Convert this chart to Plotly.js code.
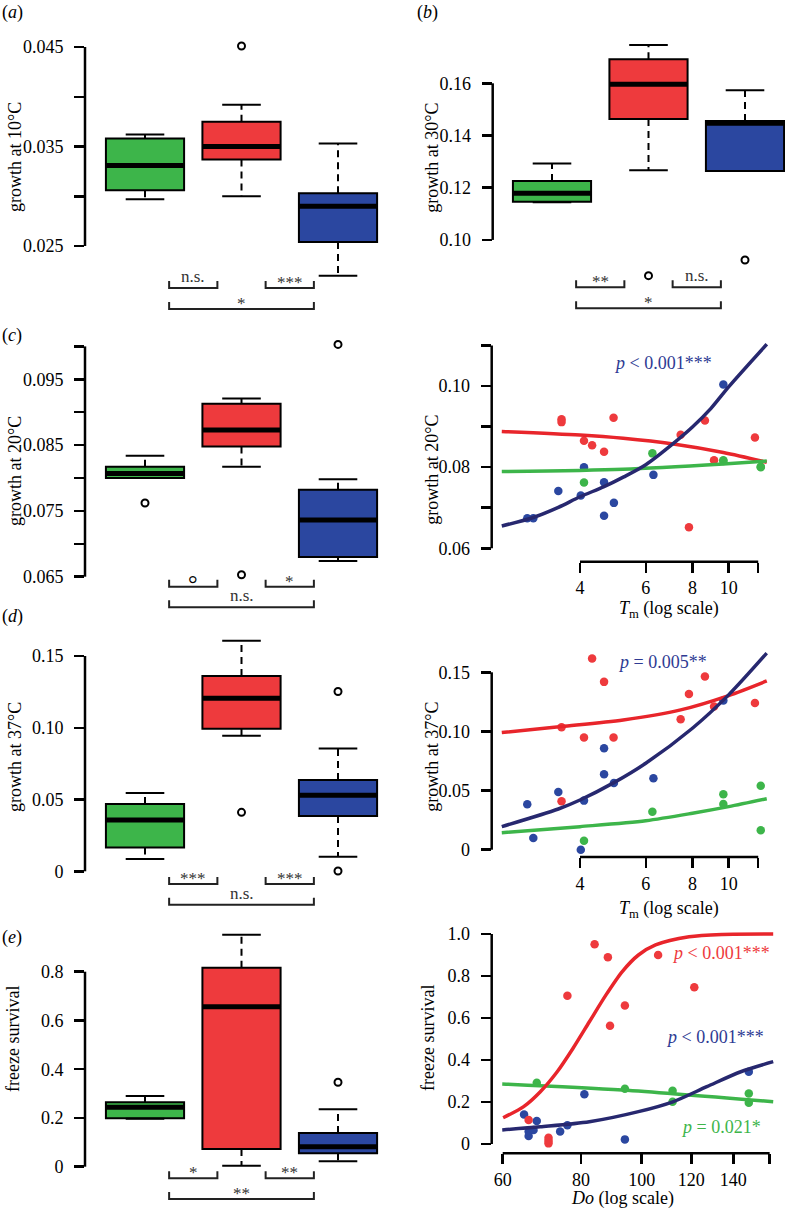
<!DOCTYPE html>
<html><head><meta charset="utf-8">
<script src="https://cdn.plot.ly/plotly-3.0.1.min.js"></script>
<style>html,body{margin:0;padding:0;background:#fff}#chart{width:785px;height:1209px}</style>
</head><body><div id="chart"></div>
<script>
// ================= DATA =================
// group order in every box panel: green, red, blue (positions 1, 2, 3)
const groups = ['green', 'red', 'blue'];

// (a) growth at 10°C
const a_lower = [0.0297, 0.0300, 0.0220];
const a_q1    = [0.0306, 0.0337, 0.0254];
const a_med   = [0.0331, 0.0350, 0.0290];
const a_q3    = [0.0358, 0.0375, 0.0303];
const a_upper = [0.0362, 0.0392, 0.0353];
const a_outGroup = [2];
const a_outVal   = [0.0451];
const a_sig = ['n.s.', '***', '*'];

// (b) growth at 30°C
const b_lower = [0.1144, 0.1267, 0.1264];
const b_q1    = [0.1146, 0.1463, 0.1264];
const b_med   = [0.1179, 0.1596, 0.1447];
const b_q3    = [0.1226, 0.1692, 0.1456];
const b_upper = [0.1293, 0.1747, 0.1573];
const b_outGroup = [2, 3];
const b_outVal   = [0.0863, 0.0923];
const b_sig = ['**', 'n.s.', '*'];

// (c) growth at 20°C
const c_lower = [0.0800, 0.0817, 0.0674];
const c_q1    = [0.0800, 0.0848, 0.0680];
const c_med   = [0.0807, 0.0873, 0.0736];
const c_q3    = [0.0817, 0.0913, 0.0782];
const c_upper = [0.0834, 0.0921, 0.0798];
const c_outGroup = [1, 2, 3];
const c_outVal   = [0.0762, 0.0653, 0.1003];
const c_sig = ['°', '*', 'n.s.'];

// (d) growth at 37°C
const d_lower = [0.0086, 0.0944, 0.0102];
const d_q1    = [0.0165, 0.0993, 0.0385];
const d_med   = [0.0357, 0.1205, 0.0529];
const d_q3    = [0.0469, 0.1360, 0.0636];
const d_upper = [0.0545, 0.1606, 0.0856];
const d_outGroup = [2, 3, 3];
const d_outVal   = [0.0411, 0.1253, 0.0002];
const d_sig = ['***', '***', 'n.s.'];

// (e) freeze survival
const e_lower = [0.197, 0.004, 0.022];
const e_q1    = [0.1985, 0.0726, 0.055];
const e_med   = [0.2437, 0.6564, 0.082];
const e_q3    = [0.264, 0.8165, 0.1383];
const e_upper = [0.290, 0.952, 0.2355];
const e_outGroup = [3];
const e_outVal   = [0.3463];
const e_sig = ['*', '**', '**'];

// strains: Tm and growth
const tmRed   = [3.57, 3.57, 4.10, 4.31, 4.64, 4.92, 7.44, 7.83, 8.64, 9.14, 11.76];
const g20Red  = [0.0918, 0.0911, 0.0865, 0.0854, 0.0838, 0.0922, 0.0880, 0.0652, 0.0915, 0.0817, 0.0873];
const g37Red  = [0.1035, 0.0409, 0.0948, 0.1616, 0.1419, 0.0948, 0.1103, 0.1317, 0.1464, 0.1210, 0.1241];
const tmBlue  = [2.89, 3.00, 3.50, 4.02, 4.10, 4.64, 4.64, 4.93, 6.29, 9.68];
const g20Blue = [0.0674, 0.0674, 0.0741, 0.0730, 0.0800, 0.0763, 0.0680, 0.0712, 0.0781, 0.1004];
const g37Blue = [0.0384, 0.0099, 0.0488, 0.0000, 0.0415, 0.0858, 0.0638, 0.0564, 0.0604, 0.1261];
const tmGreen  = [4.10, 6.25, 9.68, 9.68, 12.19, 12.19];
const g20Green = [0.0762, 0.0834, 0.0817, 0.0815, 0.0801, 0.0800];
const g37Green = [0.0076, 0.0321, 0.0469, 0.0387, 0.0541, 0.0164];

// strains: Do and freeze survival
const doRed    = [84.1, 88.3, 106.2, 76.1, 94.0, 89.0, 121.3, 66.0, 71.0, 71.0, 71.0];
const fzRed    = [0.951, 0.889, 0.900, 0.706, 0.659, 0.563, 0.746, 0.114, 0.030, 0.003, 0.015];
const doBlue   = [64.9, 68.0, 66.0, 66.0, 67.2, 74.1, 76.1, 81.0, 94.0, 148.2];
const fzBlue   = [0.141, 0.110, 0.059, 0.038, 0.067, 0.060, 0.089, 0.237, 0.022, 0.344];
const doGreen  = [68.0, 94.0, 112.0, 112.0, 148.2, 148.2];
const fzGreen  = [0.292, 0.263, 0.254, 0.201, 0.241, 0.197];

// fitted curves
const fit20Blue_x  = [2.47, 3.0, 3.5, 4.0, 4.64, 5.24, 6.0, 7.1, 8.0, 8.97, 10.0, 12.65];
const fit20Blue_y  = [0.0655, 0.0676, 0.0701, 0.0727, 0.0752, 0.0776, 0.0806, 0.0858, 0.0899, 0.0945, 0.0998, 0.1103];
const fit20Red_x   = [2.47, 4.0, 5.22, 7.11, 9.68, 12.65];
const fit20Red_y   = [0.0888, 0.0879, 0.0871, 0.0857, 0.0836, 0.0812];
const fit20Green_x = [2.47, 5.22, 9.68, 12.65];
const fit20Green_y = [0.0789, 0.0795, 0.0808, 0.0815];

const fit37Red_x   = [2.47, 3.57, 5.22, 7.44, 10.0, 12.65];
const fit37Red_y   = [0.0990, 0.1041, 0.1097, 0.1182, 0.1303, 0.1427];
const fit37Blue_x  = [2.47, 3.5, 4.0, 4.93, 6.0, 8.0, 10.0, 12.65];
const fit37Blue_y  = [0.0195, 0.0344, 0.0420, 0.0567, 0.0731, 0.1027, 0.1309, 0.1662];
const fit37Green_x = [2.47, 4.0, 6.0, 8.0, 10.0, 12.65];
const fit37Green_y = [0.0144, 0.0195, 0.0245, 0.0308, 0.0364, 0.0431];

const fitFzRed_x   = [60.1, 64.8, 68.9, 73.3, 77.7, 82.5, 87.7, 93.1, 98.8, 105.2, 119.0, 134.5, 162.1];
const fitFzRed_y   = [0.125, 0.178, 0.249, 0.344, 0.456, 0.582, 0.710, 0.821, 0.900, 0.948, 0.987, 0.998, 1.0];
const fitFzBlue_x  = [59.9, 68.9, 82.5, 98.8, 112.1, 127.0, 143.9, 162.1];
const fitFzBlue_y  = [0.067, 0.082, 0.106, 0.154, 0.201, 0.273, 0.344, 0.392];
const fitFzGreen_x = [59.9, 93.1, 162.1];
const fitFzGreen_y = [0.286, 0.257, 0.201];

// ================= STYLE / LAYOUT HELPERS =================
const W = 785, H = 1209;
const SERIF = 'Liberation Serif, Times New Roman, serif';
const FILL = {green: '#3DB54A', red: '#EE3A3D', blue: '#2B47A0'};
const LINE = {green: '#3DB54A', red: '#E8252B', blue: '#27286F'};
const PTEXT = {green: '#3DB54A', red: '#EE3A3D', blue: '#2E3A93'};
const dx = (a, b) => [a / W, b / W];
const dy = (top, bottom) => [1 - bottom / H, 1 - top / H];
const axName = i => i === 1 ? ['x', 'y'] : ['x' + i, 'y' + i];
const axKey = (c, i) => c + 'axis' + (i === 1 ? '' : i);

const traces = [], shapes = [], annotations = [];
const layout = {
  width: W, height: H, margin: {l: 0, r: 0, t: 0, b: 0},
  paper_bgcolor: '#fff', plot_bgcolor: 'rgba(0,0,0,0)',
  showlegend: false, hovermode: false, boxmode: 'overlay',
  font: {family: SERIF, size: 18, color: '#000'}
};
const tickFont = {family: SERIF, size: 18, color: '#000'};

function yAxis(i, domPx, range, vals, text, lineFrom, lineTo) {
  const [xa, ya] = axName(i);
  layout[axKey('y', i)] = {
    domain: dy(domPx[0], domPx[1]), range, anchor: xa,
    tickmode: 'array', tickvals: vals, ticktext: text,
    ticks: 'outside', ticklen: 10, tickwidth: 2.5, tickcolor: '#000',
    showline: false, showgrid: false, zeroline: false,
    tickfont: tickFont, ticklabelstandoff: 7, fixedrange: true
  };
  shapes.push({type: 'line', xref: xa + ' domain', yref: ya, x0: 0, x1: 0,
    y0: lineFrom, y1: lineTo, line: {color: '#000', width: 2.5}});
}
function xBoxAxis(i, domPx, range) {
  const [xa, ya] = axName(i);
  layout[axKey('x', i)] = {domain: dx(domPx[0], domPx[1]), range, anchor: ya,
    visible: false, fixedrange: true};
}
function xLogAxis(i, domPx, range, vals, text) {
  const [xa, ya] = axName(i);
  layout[axKey('x', i)] = {
    domain: dx(domPx[0], domPx[1]), type: 'log', range, anchor: ya,
    tickmode: 'array', tickvals: vals, ticktext: text,
    ticks: 'outside', ticklen: 10, tickwidth: 2.5, tickcolor: '#000',
    showline: false, showgrid: false, zeroline: false,
    tickfont: tickFont, ticklabelstandoff: 0, fixedrange: true
  };
  shapes.push({type: 'line', xref: xa, yref: ya + ' domain', x0: vals[0], x1: vals[vals.length - 1],
    y0: 0, y1: 0, line: {color: '#000', width: 2.5}});
}

function boxPanel(i, st, outGroup, outVal, sig, bracketPy) {
  const [xa, ya] = axName(i);
  const halfBox = 0.405, halfCap = 0.2;
  const capX = [], capY = [], medX = [], medY = [];
  groups.forEach((g, k) => {
    const c = k + 1;
    traces.push({type: 'box', xaxis: xa, yaxis: ya, x: [c],
      q1: [st.q1[k]], median: [st.med[k]], q3: [st.q3[k]],
      lowerfence: [st.q1[k]], upperfence: [st.q3[k]],
      width: 2 * halfBox, whiskerwidth: 0, boxpoints: false,
      fillcolor: FILL[g], line: {color: '#000', width: 2}, hoverinfo: 'skip'});
    traces.push({type: 'scatter', mode: 'lines', xaxis: xa, yaxis: ya, x: [c, c], y: [st.q3[k], st.upper[k]],
      line: {color: '#000', width: 2, dash: '7px,5px'}, hoverinfo: 'skip'});
    traces.push({type: 'scatter', mode: 'lines', xaxis: xa, yaxis: ya, x: [c, c], y: [st.q1[k], st.lower[k]],
      line: {color: '#000', width: 2, dash: '7px,5px'}, hoverinfo: 'skip'});
    capX.push(c - halfCap, c + halfCap, null, c - halfCap, c + halfCap, null);
    capY.push(st.upper[k], st.upper[k], null, st.lower[k], st.lower[k], null);
    medX.push(c - halfBox, c + halfBox, null);
    medY.push(st.med[k], st.med[k], null);
  });
  traces.push({type: 'scatter', mode: 'lines', xaxis: xa, yaxis: ya, x: capX, y: capY,
    line: {color: '#000', width: 2}, hoverinfo: 'skip'});
  traces.push({type: 'scatter', mode: 'lines', xaxis: xa, yaxis: ya, x: medX, y: medY,
    line: {color: '#000', width: 5}, hoverinfo: 'skip'});
  traces.push({type: 'scatter', mode: 'markers', xaxis: xa, yaxis: ya, x: outGroup, y: outVal,
    cliponaxis: false,
    marker: {symbol: 'circle-open', size: 7, color: '#000', line: {width: 2, color: '#000'}}, hoverinfo: 'skip'});
  // significance brackets
  const spans = [[1.25, 1.75, bracketPy[0]], [2.25, 2.75, bracketPy[0]], [1.25, 2.75, bracketPy[1]]];
  spans.forEach(([x0, x1, py], k) => {
    const yl = 1 - py / H, yt = 1 - (py - 7) / H;
    shapes.push({type: 'path', xref: xa, yref: 'paper',
      path: `M ${x0},${yt} L ${x0},${yl} L ${x1},${yl} L ${x1},${yt}`,
      line: {color: '#222', width: 2}});
    const isDeg = sig[k] === '°';
    const isStar = /^\*+$/.test(sig[k]);
    annotations.push({xref: xa, yref: 'paper', x: (x0 + x1) / 2, y: yl, yanchor: 'bottom',
      xanchor: 'center', showarrow: false, text: sig[k],
      yshift: isDeg ? -12 : (isStar ? -6 : 0),
      font: {family: SERIF, size: isDeg ? 24 : 17, color: isDeg ? '#000' : '#333'}});
  });
}

function scatterPanel(i, pts, fits) {
  const [xa, ya] = axName(i);
  pts.forEach(p => traces.push({type: 'scatter', mode: 'markers', xaxis: xa, yaxis: ya,
    x: p.x, y: p.y, marker: {size: 8.5, color: FILL[p.g]}, hoverinfo: 'skip'}));
  fits.forEach(f => traces.push({type: 'scatter', mode: 'lines', xaxis: xa, yaxis: ya,
    x: f.x, y: f.y, line: {color: LINE[f.g], width: 3.5, shape: 'spline', smoothing: 0.8}, hoverinfo: 'skip'}));
}

function txt(text, px, py, opts) {
  annotations.push(Object.assign({xref: 'paper', yref: 'paper', x: px / W, y: 1 - py / H,
    text, showarrow: false, xanchor: 'center', yanchor: 'middle',
    font: {family: SERIF, size: 18, color: '#000'}}, opts || {}));
}

// ================= BUILD PANELS =================
const boxXL = [85, 385], boxXR = [492.7, 785];
const scX = [491.7, 768];

// (a)
xBoxAxis(1, boxXL, [0.3782, 3.487]);
yAxis(1, [30, 318], [0.017764, 0.046709], [0.025, 0.03, 0.035, 0.04, 0.045], ['0.025', '', '0.035', '', '0.045'], 0.025, 0.045);
boxPanel(1, {lower: a_lower, q1: a_q1, med: a_med, q3: a_q3, upper: a_upper}, a_outGroup, a_outVal, a_sig, [288, 309]);

// (b)
xBoxAxis(2, boxXR, [0.3855, 3.4145]);
yAxis(2, [30, 318], [0.07008, 0.18042], [0.10, 0.12, 0.14, 0.16], ['0.10', '0.12', '0.14', '0.16'], 0.10, 0.16);
boxPanel(2, {lower: b_lower, q1: b_q1, med: b_med, q3: b_q3, upper: b_upper}, b_outGroup, b_outVal, b_sig, [287.3, 308.3]);

// (c) box
xBoxAxis(3, boxXL, [0.3782, 3.487]);
yAxis(3, [335, 612], [0.059635, 0.101733], [0.065, 0.07, 0.075, 0.08, 0.085, 0.09, 0.095, 0.1],
  ['0.065', '', '0.075', '', '0.085', '', '0.095', ''], 0.065, 0.100);
boxPanel(3, {lower: c_lower, q1: c_q1, med: c_med, q3: c_q3, upper: c_upper}, c_outGroup, c_outVal, c_sig, [586.7, 607.3]);

// (c) scatter
xLogAxis(4, scX, [0.3657, 1.1054], [4, 6, 8, 10, 12], ['4', '6', '8', '10', '']);
yAxis(4, [340, 561.7], [0.05670, 0.11134], [0.06, 0.07, 0.08, 0.09, 0.10, 0.11], ['0.06', '', '0.08', '', '0.10', ''], 0.06, 0.11);
scatterPanel(4,
  [{g: 'red', x: tmRed, y: g20Red}, {g: 'blue', x: tmBlue, y: g20Blue}, {g: 'green', x: tmGreen, y: g20Green}],
  [{g: 'red', x: fit20Red_x, y: fit20Red_y}, {g: 'green', x: fit20Green_x, y: fit20Green_y}, {g: 'blue', x: fit20Blue_x, y: fit20Blue_y}]);

// (d) box
xBoxAxis(5, boxXL, [0.3782, 3.487]);
yAxis(5, [632, 912], [-0.02836, 0.16673], [0, 0.05, 0.10, 0.15], ['0', '0.05', '0.10', '0.15'], 0, 0.15);
boxPanel(5, {lower: d_lower, q1: d_q1, med: d_med, q3: d_q3, upper: d_upper}, d_outGroup, d_outVal, d_sig, [884, 904.7]);

// (d) scatter
xLogAxis(6, scX, [0.3657, 1.1054], [4, 6, 8, 10, 12], ['4', '6', '8', '10', '']);
yAxis(6, [648, 857], [-0.00617, 0.17054], [0, 0.05, 0.10, 0.15], ['0', '0.05', '0.10', '0.15'], 0, 0.15);
scatterPanel(6,
  [{g: 'red', x: tmRed, y: g37Red}, {g: 'blue', x: tmBlue, y: g37Blue}, {g: 'green', x: tmGreen, y: g37Green}],
  [{g: 'red', x: fit37Red_x, y: fit37Red_y}, {g: 'green', x: fit37Green_x, y: fit37Green_y}, {g: 'blue', x: fit37Blue_x, y: fit37Blue_y}]);

// (e) box
xBoxAxis(7, boxXL, [0.3782, 3.487]);
yAxis(7, [925, 1209], [-0.17354, 0.99159], [0, 0.2, 0.4, 0.6, 0.8], ['0', '0.2', '0.4', '0.6', '0.8'], 0, 0.8);
boxPanel(7, {lower: e_lower, q1: e_q1, med: e_med, q3: e_q3, upper: e_upper}, e_outGroup, e_outVal, e_sig, [1178.3, 1199]);

// (e) scatter
xLogAxis(8, [491.7, 775], [1.7606, 2.21265], [60, 80, 100, 120, 140, 160], ['60', '80', '100', '120', '140', '']);
yAxis(8, [925, 1153.3], [-0.04429, 1.04286], [0, 0.2, 0.4, 0.6, 0.8, 1.0], ['0', '0.2', '0.4', '0.6', '0.8', '1.0'], 0, 1.0);
scatterPanel(8,
  [{g: 'blue', x: doBlue, y: fzBlue}, {g: 'red', x: doRed, y: fzRed}, {g: 'green', x: doGreen, y: fzGreen}],
  [{g: 'green', x: fitFzGreen_x, y: fitFzGreen_y}, {g: 'red', x: fitFzRed_x, y: fitFzRed_y}, {g: 'blue', x: fitFzBlue_x, y: fitFzBlue_y}]);

// ================= TEXT =================
txt('(<i>a</i>)', 12, 12.5);
txt('(<i>b</i>)', 427.5, 12.5);
txt('(<i>c</i>)', 12, 336);
txt('(<i>d</i>)', 12, 616);
txt('(<i>e</i>)', 12, 937);

const rot = {textangle: -90};
txt('growth at 10°C', 15, 157, rot);
txt('growth at 30°C', 431.7, 158, rot);
txt('growth at 20°C', 15, 471, rot);
txt('growth at 20°C', 431.7, 470, rot);
txt('growth at 37°C', 15, 757, rot);
txt('growth at 37°C', 431.7, 757, rot);
txt('freeze survival', 13, 1039, rot);
txt('freeze survival', 428, 1038, rot);

txt('<i>T</i><sub>m</sub> (log scale)', 669, 609);
txt('<i>T</i><sub>m</sub> (log scale)', 669, 909);
txt('<i>Do</i> (log scale)', 622, 1198);

txt('<i>p</i> < 0.001***', 662.5, 363.3, {font: {family: SERIF, size: 18, color: PTEXT.blue}});
txt('<i>p</i> = 0.005**', 662.5, 661.7, {font: {family: SERIF, size: 18, color: PTEXT.blue}});
txt('<i>p</i> < 0.001***', 772, 953.3, {xanchor: 'right', font: {family: SERIF, size: 18, color: PTEXT.red}});
txt('<i>p</i> < 0.001***', 766, 1036.7, {xanchor: 'right', font: {family: SERIF, size: 18, color: PTEXT.blue}});
txt('<i>p</i> = 0.021*', 763, 1126.7, {xanchor: 'right', font: {family: SERIF, size: 18, color: PTEXT.green}});

layout.shapes = shapes;
layout.annotations = annotations;
Plotly.newPlot('chart', traces, layout, {staticPlot: true, displayModeBar: false});
</script></body></html>
